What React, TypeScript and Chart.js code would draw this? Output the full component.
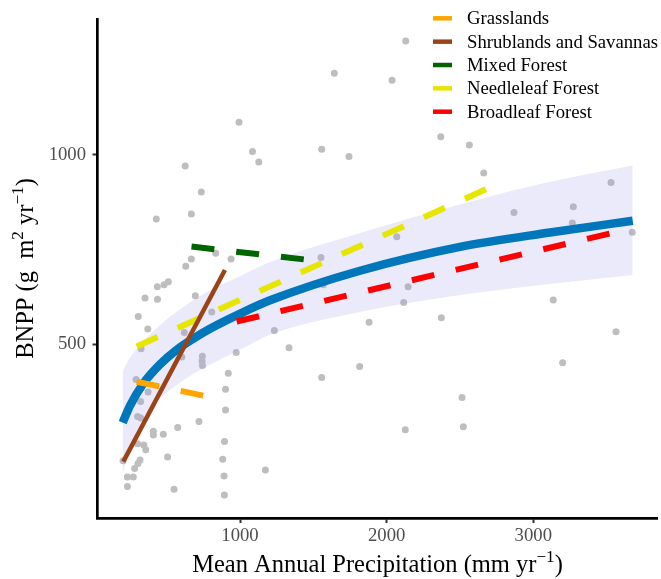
import React, { useEffect, useRef } from 'react';
import { Chart, registerables } from 'chart.js';

Chart.register(...registerables);

// ---------- data ----------
const xTicks = [1000, 2000, 3000];
const yTicks = [500, 1000];

// site observations: Mean annual precipitation (mm/yr) and BNPP
const siteMAP = [
  2130, 1643, 2037, 993, 2369, 2564, 1557, 1085, 1743, 1128,
  626, 2662, 3530, 736, 3273, 2868, 668, 429, 3266, 3675,
  2069, 834, 1552, 668, 939, 630, 436, 482, 511, 1568,
  2146, 2116, 3136, 1880, 2373, 3564, 1816, 3200, 2514, 2127,
  2523, 352, 437, 695, 306, 371, 807, 620, 325, 1234,
  1334, 974, 743, 741, 744, 920, 1557, 291, 901, 901,
  322, 301, 322, 720, 575, 409, 409, 477, 894, 302,
  344, 357, 506, 882, 202, 318, 304, 281, 232, 272,
  891, 1173, 232, 550, 893, 373, 603,
];
const siteBNPP = [
  1301, 1216, 1197, 1086, 1048, 1026, 1015, 1009, 996, 981,
  971, 952, 927, 902, 863, 848, 844, 831, 820, 796,
  784, 740, 729, 725, 725, 706, 652, 657, 665, 657,
  652, 610, 617, 558, 570, 533, 441, 451, 359, 274,
  282, 622, 619, 628, 573, 540, 585, 531, 488, 536,
  491, 478, 468, 456, 444, 423, 412, 407, 381, 326,
  349, 309, 305, 296, 280, 270, 260, 262, 243, 237,
  234, 221, 202, 196, 192, 194, 185, 172, 149, 149,
  152, 168, 124, 117, 102, 374, 466,
];

// overall fit with confidence band
const fitMAP = [200, 250, 340, 455, 568, 682, 795, 1023, 1205, 1818, 2500, 3114, 3678];
const fitBNPP = [293, 338, 396, 447, 485, 515, 541, 585, 616, 694, 757, 795, 826];
const fitUpper = [428, 464, 507, 551, 586, 617, 642, 684, 717, 794, 869, 929, 972];
const fitLower = [159, 226, 305, 358, 392, 422, 446, 490, 525, 585, 630, 659, 683];

// biome-specific fits
const biomeNames = ['Grasslands', 'Shrublands and Savannas', 'Mixed Forest', 'Needleleaf Forest', 'Broadleaf Forest'];
const biomeColors = ['#FFA500', '#9A4318', '#006400', '#E6E600', '#FF0000'];
const grassMAP = [295, 766];
const grassBNPP = [401, 363];
const shrubMAP = [204, 897];
const shrubBNPP = [190, 696];
const mixedMAP = [669, 1459];
const mixedBNPP = [758, 723];
const needleMAP = [295, 2766];
const needleBNPP = [494, 925];
const broadMAP = [977, 3607];
const broadBNPP = [560, 800];

const FONT = '"Liberation Serif", "Times New Roman", serif';

const zip = (xs: number[], ys: number[]) => xs.map((x, i) => ({ x, y: ys[i] }));

type Part = { t: string; sup?: boolean };

function drawRich(ctx: CanvasRenderingContext2D, parts: Part[], cx: number, baseY: number, size: number) {
  const supSize = size * 0.7;
  const widths = parts.map((p) => {
    ctx.font = `${p.sup ? supSize : size}px ${FONT}`;
    return ctx.measureText(p.t).width;
  });
  const total = widths.reduce((a, b) => a + b, 0);
  let x = cx - total / 2;
  ctx.textAlign = 'left';
  ctx.textBaseline = 'alphabetic';
  ctx.fillStyle = '#000';
  parts.forEach((p, i) => {
    ctx.font = `${p.sup ? supSize : size}px ${FONT}`;
    ctx.fillText(p.t, x, p.sup ? baseY - size * 0.4 : baseY);
    x += widths[i];
  });
}

const annotationsPlugin = {
  id: 'customText',
  afterDraw(chart: any) {
    const { ctx, chartArea } = chart;
    ctx.save();
    // x title
    const cx = (chartArea.left + chartArea.right) / 2;
    drawRich(
      ctx,
      [{ t: 'Mean Annual Precipitation (mm yr' }, { t: '\u22121', sup: true }, { t: ')' }],
      cx,
      572,
      24.5
    );
    // y title
    const cy = (chartArea.top + chartArea.bottom) / 2;
    ctx.save();
    ctx.translate(33, cy);
    ctx.rotate(-Math.PI / 2);
    drawRich(
      ctx,
      [{ t: 'BNPP (g  m' }, { t: '2', sup: true }, { t: ' yr' }, { t: '\u22121', sup: true }, { t: ')' }],
      0,
      0,
      24.5
    );
    ctx.restore();
    // legend
    const keyX1 = 433;
    const keyX2 = 452;
    const textX = 467;
    const y0 = 18.3;
    const dy = 23.35;
    biomeNames.forEach((name, i) => {
      const y = y0 + i * dy;
      ctx.beginPath();
      ctx.strokeStyle = biomeColors[i];
      ctx.lineWidth = 4.5;
      ctx.lineCap = 'butt';
      ctx.moveTo(keyX1, y);
      ctx.lineTo(keyX2, y);
      ctx.stroke();
      ctx.fillStyle = '#000';
      ctx.font = `18.7px ${FONT}`;
      ctx.textAlign = 'left';
      ctx.textBaseline = 'alphabetic';
      ctx.fillText(name, textX, y + 6);
    });
    ctx.restore();
  },
};

export default function App() {
  const ref = useRef<HTMLCanvasElement | null>(null);

  useEffect(() => {
    if (!ref.current) return;
    const tickFont = { family: FONT, size: 18.7 };
    const biomeSeries = [
      [grassMAP, grassBNPP],
      [shrubMAP, shrubBNPP],
      [mixedMAP, mixedBNPP],
      [needleMAP, needleBNPP],
      [broadMAP, broadBNPP],
    ];
    const biomeDatasets = biomeSeries.map(([xs, ys], i) => ({
      type: 'line' as const,
      label: biomeNames[i],
      data: zip(xs, ys),
      borderColor: biomeColors[i],
      borderWidth: i === 1 ? 4.5 : 6,
      borderDash: i === 1 ? [] : [23, 22],
      borderCapStyle: 'butt' as const,
      pointRadius: 0,
      pointHoverRadius: 0,
      tension: 0,
      fill: false,
      order: 1 + i,
    }));

    const chart = new Chart(ref.current, {
      type: 'line',
      data: {
        datasets: [
          {
            type: 'scatter',
            label: 'Sites',
            data: zip(siteMAP, siteBNPP),
            backgroundColor: '#BEBEBE',
            borderWidth: 0,
            pointRadius: 3.5,
            pointHoverRadius: 3.5,
            order: 10,
          } as any,
          {
            type: 'line',
            label: 'lower',
            data: zip(fitMAP, fitLower),
            borderWidth: 0,
            borderColor: 'rgba(0,0,0,0)',
            pointRadius: 0,
            cubicInterpolationMode: 'monotone',
            fill: false,
            order: 9,
          },
          {
            type: 'line',
            label: 'upper',
            data: zip(fitMAP, fitUpper),
            borderWidth: 0,
            borderColor: 'rgba(0,0,0,0)',
            backgroundColor: 'rgba(150,150,232,0.2)',
            pointRadius: 0,
            cubicInterpolationMode: 'monotone',
            fill: '-1',
            order: 9,
          },
          {
            type: 'line',
            label: 'All',
            data: zip(fitMAP, fitBNPP),
            borderColor: '#0077BB',
            borderWidth: 8.5,
            borderCapStyle: 'butt',
            pointRadius: 0,
            cubicInterpolationMode: 'monotone',
            fill: false,
            order: 8,
          },
          ...biomeDatasets,
        ] as any,
      },
      options: {
        animation: false,
        responsive: false,
        devicePixelRatio: 1,
        events: [],
        layout: { padding: { left: 0, top: 19, right: 3.5, bottom: 0 } },
        plugins: {
          legend: { display: false },
          tooltip: { enabled: false },
        },
        scales: {
          x: {
            type: 'linear',
            min: 28,
            max: 3847,
            afterBuildTicks: (s: any) => {
              s.ticks = xTicks.map((v) => ({ value: v }));
            },
            afterFit: (s: any) => {
              s.height = 61;
            },
            ticks: {
              font: tickFont,
              color: '#4D4D4D',
              padding: 2,
              maxRotation: 0,
              autoSkip: false,
              callback: (v: any) => String(v),
            },
            grid: { drawOnChartArea: false, drawTicks: true, tickLength: 5, tickWidth: 2, tickColor: '#333' },
            border: { display: true, color: '#000', width: 2.7 },
          },
          y: {
            type: 'linear',
            min: 41,
            max: 1359,
            afterBuildTicks: (s: any) => {
              s.ticks = yTicks.map((v) => ({ value: v }));
            },
            afterFit: (s: any) => {
              s.width = 97.5;
            },
            ticks: {
              font: tickFont,
              color: '#4D4D4D',
              padding: 6.5,
              autoSkip: false,
              callback: (v: any) => String(v),
            },
            grid: { drawOnChartArea: false, drawTicks: true, tickLength: 5, tickWidth: 2, tickColor: '#333' },
            border: { display: true, color: '#000', width: 2.7 },
          },
        },
      } as any,
      plugins: [annotationsPlugin],
    });
    return () => chart.destroy();
  }, []);

  return (
    <div style={{ position: 'absolute', left: 0, top: 0, width: 661, height: 579, background: '#fff' }}>
      <canvas ref={ref} width={661} height={579} style={{ display: 'block', width: 661, height: 579 }} />
    </div>
  );
}
